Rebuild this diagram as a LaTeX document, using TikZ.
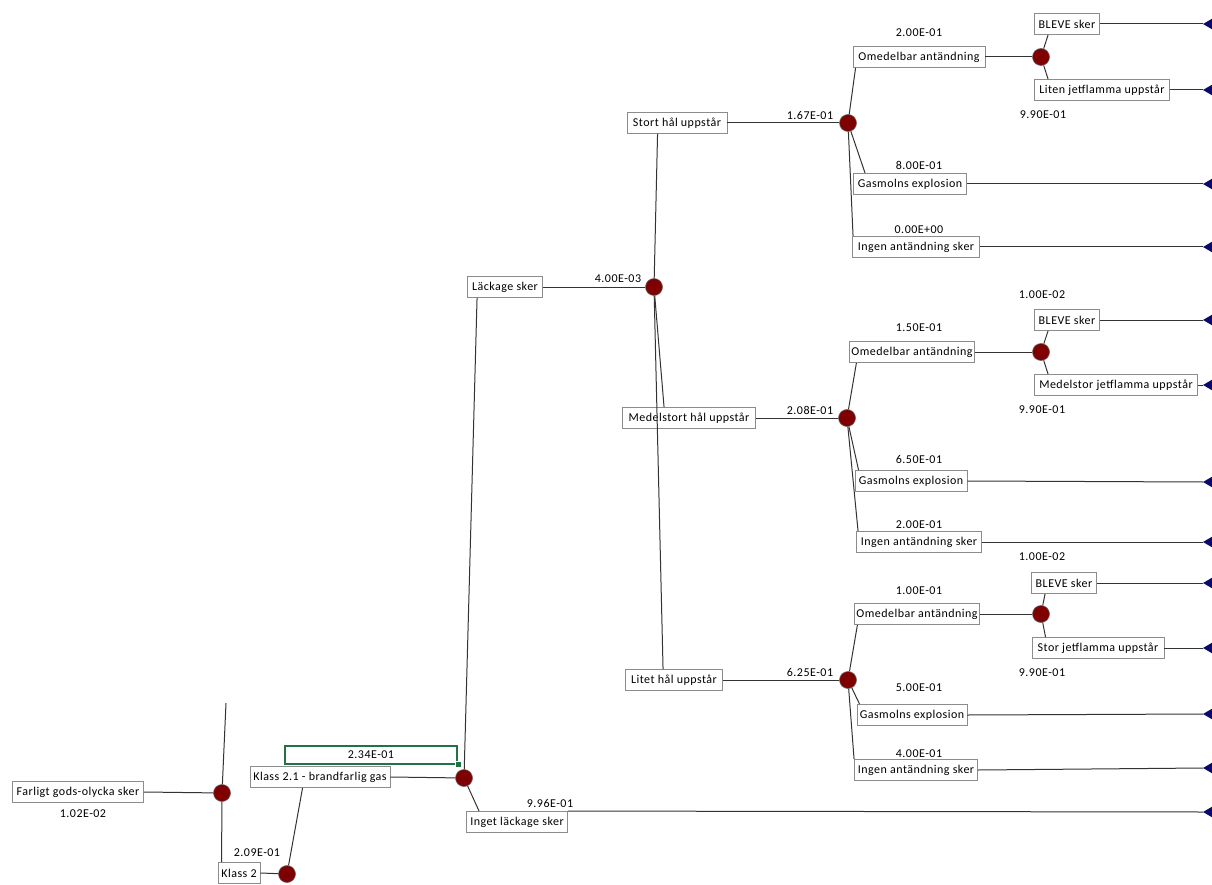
\documentclass[tikz,border=0pt]{standalone}
\usepackage{fontspec}
\setmainfont{Carlito}[LetterSpace=4]
\usepackage{tikz}
\usetikzlibrary{calc}
\definecolor{chancered}{HTML}{7F0000}
\definecolor{termblue}{HTML}{0A0A6E}
\definecolor{cellgreen}{HTML}{217346}
\tikzset{
	event/.style={draw=black!45, fill=white, line width=0.9pt, minimum height=21pt, inner sep=1.5pt, font=\fontsize{12}{14}\selectfont},
	chance/.style={circle, draw=black!60, fill=chancered, line width=0.6pt, minimum size=17pt, inner sep=0pt},
	prob/.style={inner sep=0pt, font=\fontsize{12}{14}\selectfont},
	branch/.style={draw=black!80, line width=1pt}
}
\def\term(#1){\fill[termblue] (#1) -- ++(12,-7) -- ++(0,14) -- cycle;}

\begin{document}
\begin{tikzpicture}[x=1pt, y=-1pt]
			%%%%% START %%%%%
			
			\useasboundingbox (0,0) rectangle (1212,885);
			
			\node[event, minimum width=131pt] (farligt) at (78, 792) {Farligt gods-olycka sker};
			\node[event, minimum width=42pt] (klass) at (239, 873) {Klass 2};
			\node[event, minimum width=140pt] (klassgas) at (320, 777) {Klass 2.1 - brandfarlig gas};
			\node[event, minimum width=75pt] (lackage) at (505, 287) {Läckage sker};
			\node[event, minimum width=101pt] (inget) at (517, 822) {Inget läckage sker};
			\node[event, minimum width=100pt] (stort) at (677, 123) {Stort hål uppstår};
			\node[event, minimum width=133pt] (medel) at (689, 418) {Medelstort hål uppstår};
			\node[event, minimum width=97pt] (litet) at (674, 680) {Litet hål uppstår};
			
			\node[event, minimum width=132pt] (omedA) at (919, 57) {Omedelbar antändning};
			\node[event, minimum width=65pt] (bleveA) at (1067, 24) {BLEVE sker};
			\node[event, minimum width=135pt] (jetA) at (1102, 90) {Liten jetflamma uppstår};
			\node[event, minimum width=113pt] (gasA) at (910, 184) {Gasmolns explosion};
			\node[event, minimum width=127pt] (ingenA) at (916, 247) {Ingen antändning sker};
			
			\node[event, minimum width=120pt] (omedB) at (912, 352) {Omedelbar antändning};
			\node[event, minimum width=65pt] (bleveB) at (1067, 320) {BLEVE sker};
			\node[event, minimum width=163pt] (jetB) at (1116, 385) {Medelstor jetflamma uppstår};
			\node[event, minimum width=112pt] (gasB) at (911, 481) {Gasmolns explosion};
			\node[event, minimum width=125pt] (ingenB) at (919, 542) {Ingen antändning sker};
			
			\node[event, minimum width=120pt] (omedC) at (917, 614) {Omedelbar antändning};
			\node[event, minimum width=65pt] (bleveC) at (1064, 583) {BLEVE sker};
			\node[event, minimum width=132pt] (jetC) at (1098, 648) {Stor jetflamma uppstår};
			\node[event, minimum width=110pt] (gasC) at (912, 715) {Gasmolns explosion};
			\node[event, minimum width=123pt] (ingenC) at (916, 770) {Ingen antändning sker};
			
			\node[chance] (c0) at (222, 793) {};
			\node[chance] (c1) at (287, 874) {};
			\node[chance] (c2) at (464, 778) {};
			\node[chance] (c3) at (654, 287) {};
			\node[chance] (cA) at (848, 123) {};
			\node[chance] (cB) at (847, 418) {};
			\node[chance] (cC) at (848, 680) {};
			\node[chance] (cA2) at (1041, 57) {};
			\node[chance] (cB2) at (1041, 352) {};
			\node[chance] (cC2) at (1041, 614) {};
			
			\coordinate (top) at (226, 703);
			\coordinate (eInget) at (1203, 812);
			\coordinate (eA1) at (1203, 24);
			\coordinate (eA2) at (1203, 90);
			\coordinate (eA3) at (1203, 184);
			\coordinate (eA4) at (1203, 247);
			\coordinate (eB1) at (1203, 320);
			\coordinate (eB2) at (1203, 385);
			\coordinate (eB3) at (1203, 482);
			\coordinate (eB4) at (1203, 542);
			\coordinate (eC1) at (1203, 583);
			\coordinate (eC2) at (1203, 648);
			\coordinate (eC3) at (1203, 714);
			\coordinate (eC4) at (1203, 768);
			
			\draw[branch] (farligt.east) -- (c0);
			\draw[branch] (c0) -- (top);
			\draw[branch] (c0) -- ([xshift=4pt]klass.north west);
			\draw[branch] (klass.east) -- (c1);
			\draw[branch] (c1) -- ([xshift=53pt]klassgas.south west);
			\draw[branch] (klassgas.east) -- (c2);
			\draw[branch] (c2) -- ([xshift=10pt]lackage.south west);
			\draw[branch] (c2) -- ([xshift=13pt]inget.north west);
			\draw[branch] (inget.north east) -- (eInget);
			\draw[branch] (lackage.east) -- (c3);
			\draw[branch] (c3) -- ([xshift=31pt]stort.south west);
			\draw[branch] (c3) -- ([xshift=42pt]medel.north west);
			\draw[branch] (c3) -- ([xshift=38pt]litet.north west);
			\draw[branch] (stort.east) -- (cA);
			\draw[branch] (medel.east) -- (cB);
			\draw[branch] (litet.east) -- (cC);
			
			\draw[branch] (cA) -- ([xshift=3pt]omedA.south west);
			\draw[branch] (cA) -- ([xshift=12pt]gasA.north west);
			\draw[branch] (cA) -- ([xshift=1pt]ingenA.north west);
			\draw[branch] (omedA.east) -- (cA2);
			\draw[branch] (cA2) -- ([xshift=14pt]bleveA.south west);
			\draw[branch] (cA2) -- ([xshift=14pt]jetA.north west);
			\draw[branch] (bleveA.east) -- (eA1);
			\draw[branch] (jetA.east) -- (eA2);
			\draw[branch] (gasA.east) -- (eA3);
			\draw[branch] (ingenA.east) -- (eA4);
			
			\draw[branch] (cB) -- ([xshift=7pt]omedB.south west);
			\draw[branch] (cB) -- ([xshift=4pt]gasB.north west);
			\draw[branch] (cB) -- ([xshift=2pt]ingenB.north west);
			\draw[branch] (omedB.east) -- (cB2);
			\draw[branch] (cB2) -- ([xshift=14pt]bleveB.south west);
			\draw[branch] (cB2) -- ([xshift=14pt]jetB.north west);
			\draw[branch] (bleveB.east) -- (eB1);
			\draw[branch] (jetB.east) -- (eB2);
			\draw[branch] (gasB.east) -- (eB3);
			\draw[branch] (ingenB.east) -- (eB4);
			
			\draw[branch] (cC) -- ([xshift=3pt]omedC.south west);
			\draw[branch] (cC) -- ([xshift=3pt]gasC.north west);
			\draw[branch] (cC) -- ([xshift=0pt]ingenC.north west);
			\draw[branch] (omedC.east) -- (cC2);
			\draw[branch] (cC2) -- ([xshift=14pt]bleveC.south west);
			\draw[branch] (cC2) -- ([xshift=14pt]jetC.north west);
			\draw[branch] (bleveC.east) -- (eC1);
			\draw[branch] (jetC.east) -- (eC2);
			\draw[branch] (gasC.east) -- (eC3);
			\draw[branch] (ingenC.east) -- (eC4);
			
			\term(eInget) \term(eA1) \term(eA2) \term(eA3) \term(eA4)
			\term(eB1) \term(eB2) \term(eB3) \term(eB4)
			\term(eC1) \term(eC2) \term(eC3) \term(eC4)
			
			\node[draw=cellgreen, line width=2pt, minimum width=172pt, minimum height=18pt, inner sep=0pt, font=\fontsize{12}{14}\selectfont] (cell) at (371, 754.5) {2.34E-01};
			\fill[cellgreen, draw=white, line width=0.8pt] ($(cell.south east)+(-3,-3)$) rectangle ++(6,6);
			
			\node[prob] (pFarligt) at (83, 814) {1.02E-02};
			\node[prob] (pKlass) at (257, 853) {2.09E-01};
			\node[prob] (pInget) at (550, 803) {9.96E-01};
			\node[prob] (pLackage) at (618, 279) {4.00E-03};
			\node[prob] (pStort) at (810, 115) {1.67E-01};
			\node[prob] (pMedel) at (810, 410) {2.08E-01};
			\node[prob] (pLitet) at (810, 672) {6.25E-01};
			
			\node[prob] (pOmedA) at (919, 33) {2.00E-01};
			\node[prob] (pJetA) at (1043, 115) {9.90E-01};
			\node[prob] (pGasA) at (919, 165) {8.00E-01};
			\node[prob] (pIngenA) at (919, 230) {0.00E+00};
			
			\node[prob] (pBleveB) at (1042, 295) {1.00E-02};
			\node[prob] (pOmedB) at (919, 328) {1.50E-01};
			\node[prob] (pJetB) at (1042, 410) {9.90E-01};
			\node[prob] (pGasB) at (919, 459) {6.50E-01};
			\node[prob] (pIngenB) at (919, 525) {2.00E-01};
			
			\node[prob] (pBleveC) at (1042, 557) {1.00E-02};
			\node[prob] (pOmedC) at (919, 591) {1.00E-01};
			\node[prob] (pJetC) at (1042, 673) {9.90E-01};
			\node[prob] (pGasC) at (919, 688) {5.00E-01};
			\node[prob] (pIngenC) at (919, 754) {4.00E-01};
			
			%%%%% END %%%%%
\end{tikzpicture}
\end{document}
